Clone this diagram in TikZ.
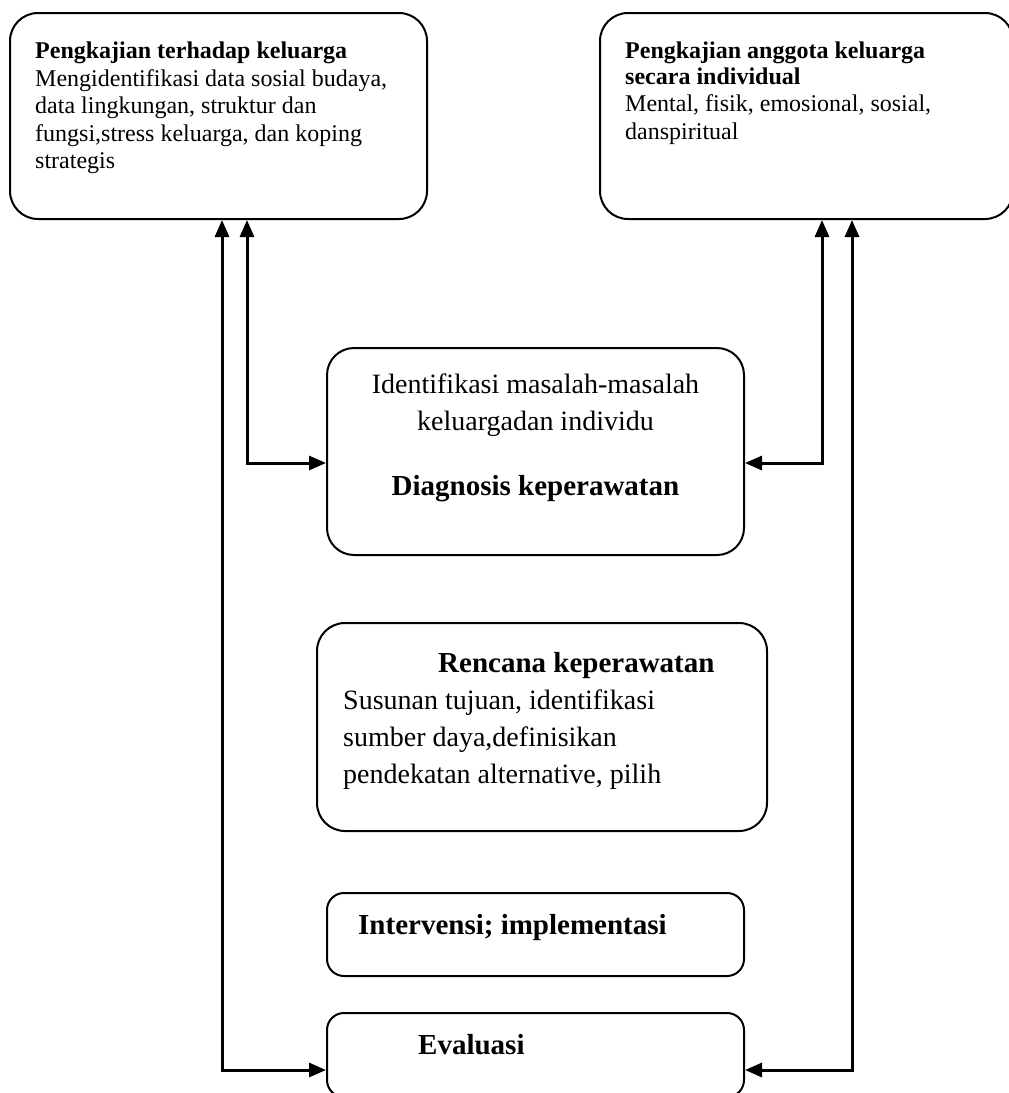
\documentclass[tikz,border=0pt]{standalone}
\usepackage{fontspec}
\setmainfont{Liberation Serif}
\usetikzlibrary{arrows.meta}
\newcommand\smallfnt{\fontsize{24}{27.5}\selectfont}
\newcommand\largefnt{\fontsize{28}{37}\selectfont}
\newcommand\headfnt{\fontsize{29}{37}\selectfont\bfseries}
\begin{document}
\begin{tikzpicture}[x=1pt,y=-1pt,
  box/.style={draw,line width=2pt,rounded corners=28pt,inner sep=0pt},
  flatbox/.style={box,rounded corners=17pt},
  txt/.style={inner sep=0pt,align=left,anchor=north west},
  link/.style={line width=3pt,{Triangle[length=17pt,width=14pt]}-{Triangle[length=17pt,width=14pt]}}]
\useasboundingbox (0,0) rectangle (1009,1093);
\fill[white] (0,0) rectangle (1009,1093);

\node[box,minimum width=417pt,minimum height=206pt] (fam) at (218.5,116) {};
\node[txt,font=\smallfnt] (famtxt) at (35,42) {\textbf{Pengkajian terhadap keluarga}\\Mengidentifikasi data sosial budaya,\\data lingkungan, struktur dan\\fungsi,stress keluarga, dan koping\\strategis};

\node[box,minimum width=413pt,minimum height=206pt] (indiv) at (806.5,116) {};
\node[txt,font=\smallfnt] (indivtxt) at (625,42) {\textbf{Pengkajian anggota keluarga}\\[-2pt]\textbf{secara individual}\\Mental, fisik, emosional, sosial,\\danspiritual};

\node[box,rounded corners=27pt,minimum width=417pt,minimum height=207pt] (diag) at (535.5,451.5) {};
\node[inner sep=0pt,align=center,anchor=north,font=\largefnt] (diagtxt) at (535.5,374) {Identifikasi masalah-masalah\\keluargadan individu\\[28pt]{\headfnt Diagnosis keperawatan}};

\node[box,minimum width=450pt,minimum height=208pt] (plan) at (542,727) {};
\node[txt,font=\largefnt] (plantxt) at (343,652) {\hspace*{95pt}{\headfnt Rencana keperawatan}\\Susunan tujuan, identifikasi\\sumber daya,definisikan\\pendekatan alternative, pilih};

\node[flatbox,minimum width=417pt,minimum height=83pt] (impl) at (535.5,934.5) {};
\node[txt,font=\headfnt] (impltxt) at (358,914) {Intervensi; implementasi};

\node[flatbox,minimum width=417pt,minimum height=84pt] (eval) at (535.5,1055) {};
\node[txt,font=\headfnt] (evaltxt) at (418,1034) {Evaluasi};

\coordinate (lo) at (222,1070);
\coordinate (li) at (247,463);
\coordinate (ri) at (822,463);
\coordinate (ro) at (852,1070);
\draw[link] (fam.south -| lo) -- (lo) -- (eval.west |- lo);
\draw[link] (fam.south -| li) -- (li) -- (diag.west |- li);
\draw[link] (indiv.south -| ri) -- (ri) -- (diag.east |- ri);
\draw[link] (indiv.south -| ro) -- (ro) -- (eval.east |- ro);
\end{tikzpicture}
\end{document}
